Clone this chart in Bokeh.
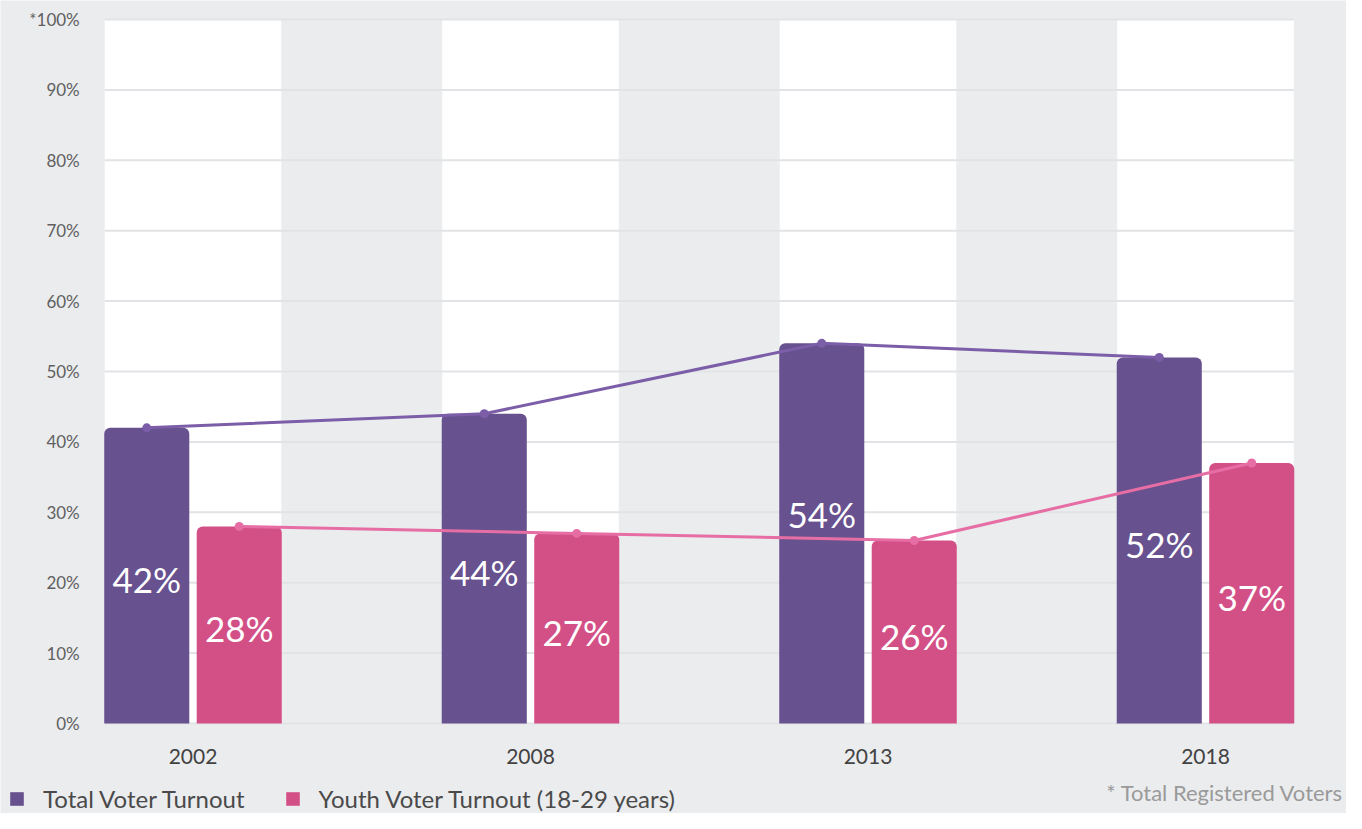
import numpy as np
from bokeh.plotting import figure
from bokeh.models import (Range1d, Legend, LegendItem, Label, ColumnDataSource)
from bokeh.core.properties import value
from bokeh.embed import file_html
from bokeh.resources import INLINE

# ---- data ----
years = ["2002", "2008", "2013", "2018"]
total_turnout = [42, 44, 54, 52]
youth_turnout = [28, 27, 26, 37]
y_ticks = [0, 10, 20, 30, 40, 50, 60, 70, 80, 90, 100]
y_tick_labels = ["0%", "10%", "20%", "30%", "40%", "50%", "60%", "70%", "80%", "90%", "*100%"]
legend_labels = ["Total Voter Turnout", "Youth Voter Turnout (18-29 years)"]
footnote = "* Total Registered Voters"

FONT = "Lato"
BG = "#EBECEE"
PURPLE_BAR = "#67518F"
PINK_BAR = "#D35087"
PURPLE_LINE = "#7B5DA8"
PINK_LINE = "#E66EA4"

W, H = 1346, 813
# layout (pixels): category spacing and plot area
PX_PER_CAT = 337.5
PX_PER_PCT = 7.04
CAT0_PX = 192.5      # centre of first group
ZERO_PX = 723        # y pixel of 0%

idx = list(range(len(years)))
off = 0.137
bw = 0.252
band_half = 0.2615
x_total = [i - off for i in idx]
x_youth = [i + off for i in idx]

x_lo = (0 - CAT0_PX) / PX_PER_CAT
x_hi = (W - CAT0_PX) / PX_PER_CAT
y_hi = ZERO_PX / PX_PER_PCT
y_lo = (ZERO_PX - H) / PX_PER_PCT


def label_positions(xs, vals, other_xs, other_vals, gap=3.5):
    """Place value labels at mid-bar; lift them above the other series' line
    if they would overlap it."""
    out = []
    for x, v in zip(xs, vals):
        ly = v / 2 - 0.5
        line_y = float(np.interp(x, other_xs, other_vals))
        if abs(ly - line_y) < gap and line_y + gap < v - 2:
            ly = line_y + gap
        out.append(ly)
    return out


p = figure(width=W, height=H, output_backend="svg", toolbar_location=None,
           x_range=Range1d(x_lo, x_hi), y_range=Range1d(y_lo, y_hi),
           min_border=0, x_axis_type=None, y_axis_type=None)
p.background_fill_color = BG
p.border_fill_color = BG
p.outline_line_color = None
p.grid.visible = False

# white bands behind each group
p.quad(left=[i - band_half for i in idx], right=[i + band_half for i in idx],
       bottom=0, top=100, fill_color="white", line_color=None)

# horizontal grid lines across the plot area
g_left = idx[0] - band_half
g_right = idx[-1] + band_half
p.segment(x0=[g_left] * len(y_ticks), x1=[g_right] * len(y_ticks),
          y0=y_ticks, y1=y_ticks, line_color="#E2E3E6", line_width=2)

# y tick labels
tick_x = g_left - 25 / PX_PER_CAT
p.text(x=[tick_x] * len(y_ticks), y=y_ticks, text=y_tick_labels,
       text_font=value(FONT), text_font_size="17px", text_color="#606060",
       text_align="right", text_baseline="middle")

# category labels
cat_y = -33 / PX_PER_PCT
p.text(x=idx, y=[cat_y] * len(idx), text=years,
       text_font=value(FONT), text_font_size="21px", text_color="#424242",
       text_align="center", text_baseline="middle")

# bars
src_t = ColumnDataSource(dict(x=x_total, top=total_turnout,
                              lab=[f"{v}%" for v in total_turnout],
                              ly=label_positions(x_total, total_turnout,
                                                 x_youth, youth_turnout)))
src_y = ColumnDataSource(dict(x=x_youth, top=youth_turnout,
                              lab=[f"{v}%" for v in youth_turnout],
                              ly=label_positions(x_youth, youth_turnout,
                                                 x_total, total_turnout)))
r_t = p.vbar(x="x", top="top", bottom=0, width=bw, source=src_t,
             fill_color=PURPLE_BAR, line_color=None, border_radius=(6, 6, 0, 0))
r_y = p.vbar(x="x", top="top", bottom=0, width=bw, source=src_y,
             fill_color=PINK_BAR, line_color=None, border_radius=(6, 6, 0, 0))

# bar labels
for src in (src_t, src_y):
    p.text(x="x", y="ly", text="lab", source=src, text_color="white",
           text_font=value(FONT), text_font_size="35px",
           text_align="center", text_baseline="middle")

# lines
p.line(x_total, total_turnout, line_color=PURPLE_LINE, line_width=3)
p.scatter(x_total, total_turnout, size=9, fill_color=PURPLE_LINE, line_color=None)
p.line(x_youth, youth_turnout, line_color=PINK_LINE, line_width=3)
p.scatter(x_youth, youth_turnout, size=9, fill_color=PINK_LINE, line_color=None)

# legend
legend = Legend(items=[LegendItem(label=legend_labels[0], renderers=[r_t]),
                       LegendItem(label=legend_labels[1], renderers=[r_y])],
                orientation="horizontal", location=(8, 0),
                glyph_width=17, glyph_height=17, label_standoff=18, spacing=39,
                padding=0, margin=0, border_line_color=None,
                background_fill_alpha=0,
                label_text_font=FONT, label_text_font_size="24px",
                label_text_color="#4A4A4A")
p.add_layout(legend, "center")

# footnote
p.add_layout(Label(x=1343, y=H - 792, x_units="screen", y_units="screen",
                   text=footnote, text_align="right", text_baseline="middle",
                   text_font=FONT, text_font_size="22px", text_color="#9A9A9A"))

open("out.html", "w").write(file_html(p, INLINE))
